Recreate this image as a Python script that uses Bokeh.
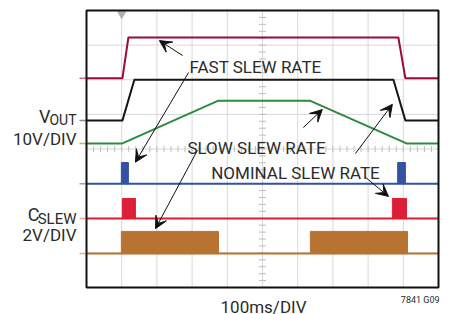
from bokeh.plotting import figure
from bokeh.models import Label, Arrow, VeeHead, Range1d
from bokeh.embed import file_html
from bokeh.resources import INLINE

# ---- data: time in ms (100 ms/div), level in screen divisions ----
t_fast = [0, 102, 119, 886, 906, 1000]
v_fast = [6.04, 6.04, 7.22, 7.22, 6.04, 6.04]

t_nom = [0, 102, 136, 872, 906, 1000]
v_nom = [4.82, 4.82, 6.00, 6.00, 4.82, 4.82]

t_slow = [0, 102, 373, 636, 909, 1000]
v_slow = [4.16, 4.16, 5.39, 5.39, 4.16, 4.16]

blue_base = 3.00
blue_top = 3.61
blue_left = [99, 884]
blue_right = [119, 906]

red_base = 1.99
red_top = 2.57
red_left = [102, 869]
red_right = [139, 909]

brown_base = 0.98
brown_top = 1.62
brown_left = [99, 636]
brown_right = [375, 912]

trigger_t = 100
x_divs = list(range(0, 1001, 100))
y_divs = list(range(0, 9))

FONT = "Roboto"
TXT = "#2b2b2b"

# canvas and the scope screen box inside it (pixels)
W, H = 450, 314
BL, BR, BT, BB = 86, 12, 10, 27
FW, FH = W - BL - BR, H - BT - BB
XMAX, YMAX = x_divs[-1], y_divs[-1]
px = XMAX / FW     # data per pixel, x
py = YMAX / FH     # data per pixel, y

p = figure(width=W, height=H, output_backend="svg", toolbar_location=None,
           x_axis_location=None, y_axis_location=None,
           x_range=Range1d(-BL * px, XMAX + BR * px),
           y_range=Range1d(-BB * py, YMAX + BT * py),
           min_border=0)
p.grid.visible = False
p.outline_line_color = None
p.background_fill_color = "white"
p.border_fill_color = "white"

# graticule
inner_x = x_divs[1:-1]
inner_y = y_divs[1:-1]
p.segment(x0=inner_x, y0=[0] * len(inner_x), x1=inner_x, y1=[YMAX] * len(inner_x),
          line_color="#d8d8d8", line_width=1)
p.segment(x0=[0] * len(inner_y), y0=inner_y, x1=[XMAX] * len(inner_y), y1=inner_y,
          line_color="#d8d8d8", line_width=1)

# minor ticks on centre lines (5 per division)
xc = x_divs[len(x_divs) // 2]
yc = y_divs[len(y_divs) // 2]
dx = 3.5 * px
dy = 3.0 * py
ys = [k * 0.2 for k in range(1, 40)]
xs = [k * 20 for k in range(1, 50)]
p.segment(x0=[xc - dx] * len(ys), y0=ys, x1=[xc + dx] * len(ys), y1=ys,
          line_color="#bdbdbd", line_width=1)
p.segment(x0=xs, y0=[yc - dy] * len(xs), x1=xs, y1=[yc + dy] * len(xs),
          line_color="#bdbdbd", line_width=1)

# trigger marker
p.scatter([trigger_t], [YMAX - 3.5 * py], marker="inverted_triangle", size=8,
          color="#b0b0b0")

# traces
C_FAST, C_NOM, C_SLOW = "#9a0c38", "#151515", "#2e8b3c"
C_BLUE, C_RED, C_BROWN = "#3352a3", "#dc1f36", "#b87333"

p.line(t_fast, v_fast, line_color=C_FAST, line_width=2)
p.line(t_nom, v_nom, line_color=C_NOM, line_width=2)
p.line(t_slow, v_slow, line_color=C_SLOW, line_width=2)

p.line([0, XMAX], [blue_base] * 2, line_color=C_BLUE, line_width=2)
p.quad(left=blue_left, right=blue_right, bottom=[blue_base] * 2, top=[blue_top] * 2,
       fill_color=C_BLUE, line_color=C_BLUE)
p.line([0, XMAX], [red_base] * 2, line_color=C_RED, line_width=2)
p.quad(left=red_left, right=red_right, bottom=[red_base] * 2, top=[red_top] * 2,
       fill_color=C_RED, line_color=C_RED)
p.line([0, XMAX], [brown_base] * 2, line_color=C_BROWN, line_width=2)
p.quad(left=brown_left, right=brown_right, bottom=[brown_base] * 2, top=[brown_top] * 2,
       fill_color=C_BROWN, line_color=C_BROWN)

# channel ground markers outside left edge
levels = [v_fast[0], v_nom[0], v_slow[0], blue_base, red_base, brown_base]
mcols = ["#c97088", "#8a8a8a", "#8cc596", "#8fa3d6", "#f2a0a8", "#dcb48c"]
p.segment(x0=[-7 * px] * 6, y0=levels, x1=[0] * 6, y1=levels,
          line_color=mcols, line_width=1.5)

# screen frame
p.quad(left=[0], right=[XMAX], bottom=[0], top=[YMAX], fill_color=None,
       line_color="#111111", line_width=2)

# annotations
def arrow(x0, y0, x1, y1):
    p.add_layout(Arrow(end=VeeHead(size=12, fill_color="#111111", line_color="#111111"),
                       x_start=x0, y_start=y0, x_end=x1, y_end=y1,
                       line_color="#111111", line_width=1))

arrow(273, 6.70, 207, 7.13)
arrow(290, 6.21, 139, 3.62)
arrow(315, 3.96, 196, 1.70)
arrow(616, 4.62, 670, 5.14)
arrow(764, 3.87, 869, 5.29)
arrow(793, 3.18, 858, 2.63)

def lab(x, y, text, size="17px", align="center"):
    p.add_layout(Label(x=x, y=y, text=text, text_font=FONT, text_font_size=size,
                       text_align=align, text_baseline="alphabetic", text_color=TXT))

lab(169 * px, 6.38, "FAST SLEW RATE")
lab(170 * px, 4.04, "SLOW SLEW RATE")
lab(209 * px, 3.32, "NOMINAL SLEW RATE")

lab(-36 * px, 4.94, "V", size="18px", align="right")
lab(-10 * px, 4.85, "OUT", size="14px", align="right")
lab(-10 * px, 4.30, "10V/DIV", size="17px", align="right")
lab(-47 * px, 2.11, "C", size="18px", align="right")
lab(-10 * px, 1.99, "SLEW", size="15px", align="right")
lab(-10 * px, 1.53, "2V/DIV", size="17px", align="right")
lab(177 * px, -19.5 * py, "100ms/DIV", size="17px")
lab(1003, -0.35, "7841 G09", size="9px", align="right")

open("out.html", "w").write(file_html(p, INLINE))
